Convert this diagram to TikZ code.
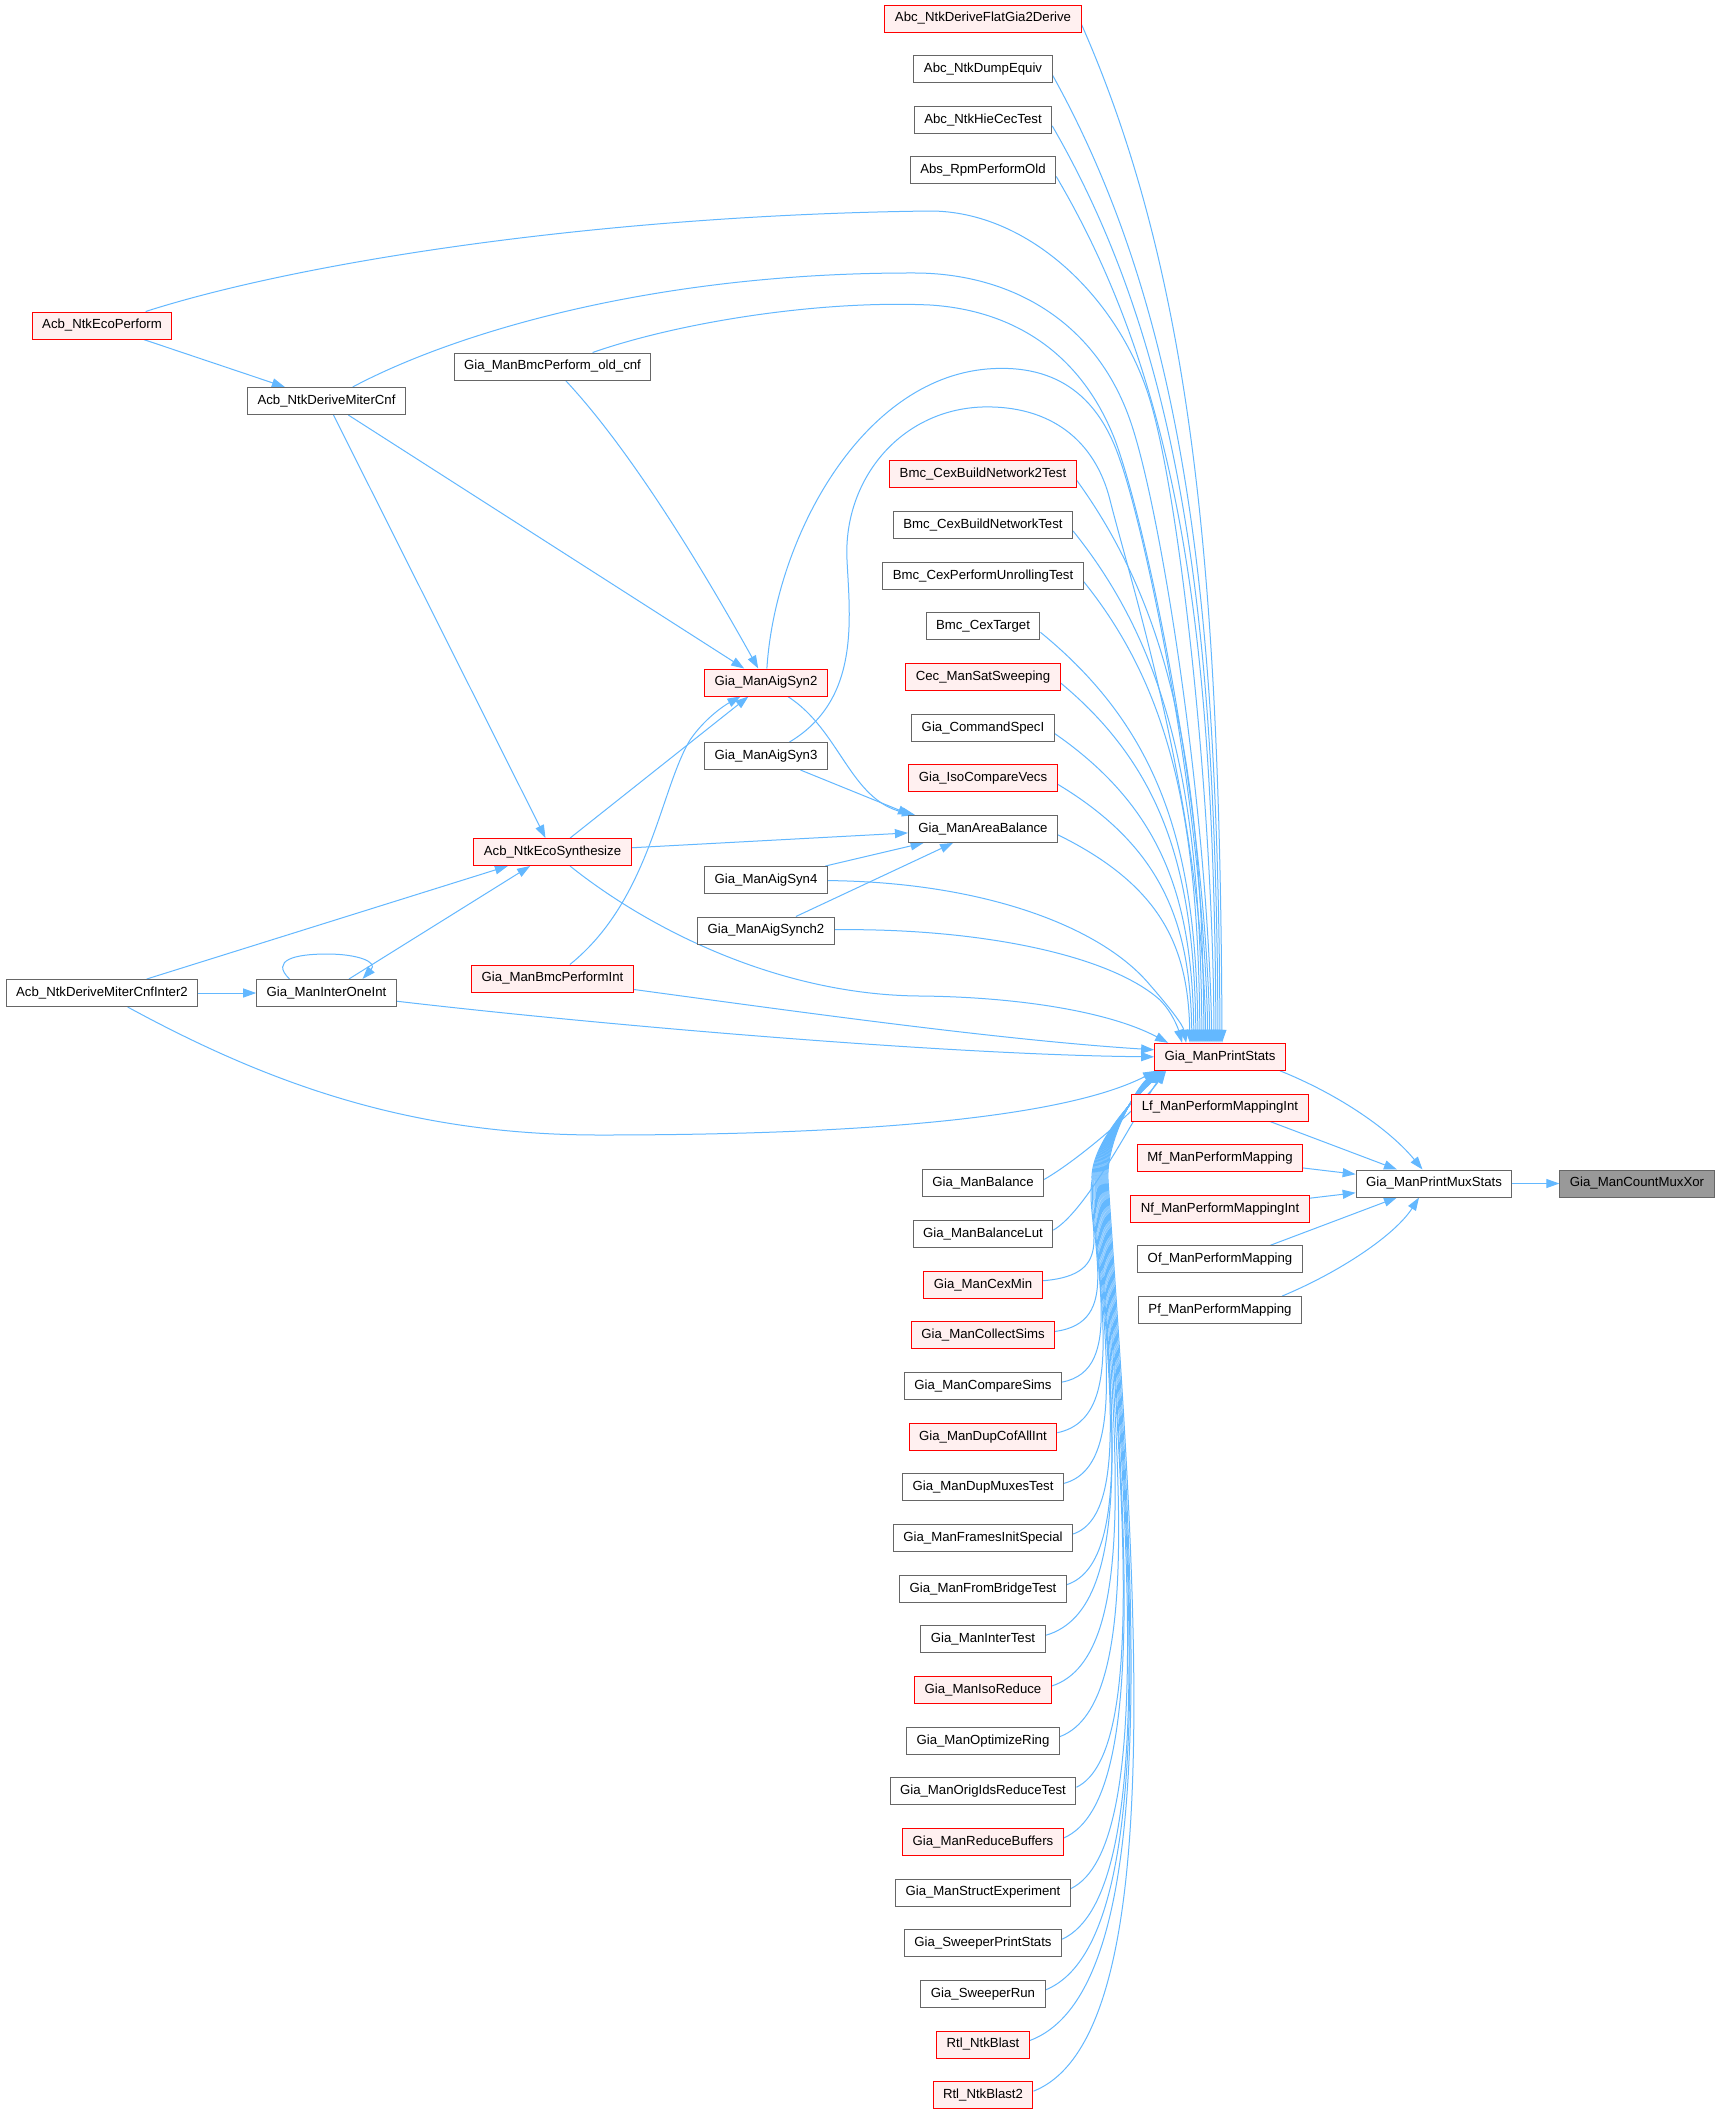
\documentclass[tikz,border=0pt]{standalone}
\usepackage{fontspec}
\setmainfont{Liberation Sans}
\usetikzlibrary{arrows.meta,calc}
\pgfdeclarelayer{bg}
\pgfsetlayers{bg,main}
\definecolor{edgec}{HTML}{63B8FF}
\definecolor{nodeg}{HTML}{666666}
\definecolor{redfill}{HTML}{FFF0F0}
\definecolor{cmxfill}{HTML}{999999}
\tikzset{
  fn/.style={draw=nodeg, fill=white, line width=1pt, rectangle, minimum height=27pt,
    inner xsep=10pt, inner ysep=0pt, text height=9.6pt, text depth=2.8pt,
    font=\fontsize{13.2pt}{16pt}\selectfont, text=black},
  rn/.style={fn, draw=red, fill=redfill},
  cn/.style={fn, fill=cmxfill},
  cl/.style={draw=edgec, line width=1pt, -{Triangle[length=13pt,width=9pt]}},
}
\begin{document}
\begin{tikzpicture}[x=1pt,y=-1pt]
\begin{pgfonlayer}{bg}
\fill[white] (0,0) rectangle (1720,2115);
\end{pgfonlayer}
\useasboundingbox (0,0) rectangle (1720,2115);

% column of callers
\foreach \k/\sty/\lbl in {
 0/rn/Abc\_NtkDeriveFlatGia2Derive,
 1/fn/Abc\_NtkDumpEquiv,
 2/fn/Abc\_NtkHieCecTest,
 3/fn/Abs\_RpmPerformOld,
 9/rn/Bmc\_CexBuildNetwork2Test,
 10/fn/Bmc\_CexBuildNetworkTest,
 11/fn/Bmc\_CexPerformUnrollingTest,
 12/fn/Bmc\_CexTarget,
 13/rn/Cec\_ManSatSweeping,
 14/fn/Gia\_CommandSpecI,
 15/rn/Gia\_IsoCompareVecs,
 16/fn/Gia\_ManAreaBalance,
 23/fn/Gia\_ManBalance,
 24/fn/Gia\_ManBalanceLut,
 25/rn/Gia\_ManCexMin,
 26/rn/Gia\_ManCollectSims,
 27/fn/Gia\_ManCompareSims,
 28/rn/Gia\_ManDupCofAllInt,
 29/fn/Gia\_ManDupMuxesTest,
 30/fn/Gia\_ManFramesInitSpecial,
 31/fn/Gia\_ManFromBridgeTest,
 32/fn/Gia\_ManInterTest,
 33/rn/Gia\_ManIsoReduce,
 34/fn/Gia\_ManOptimizeRing,
 35/fn/Gia\_ManOrigIdsReduceTest,
 36/rn/Gia\_ManReduceBuffers,
 37/fn/Gia\_ManStructExperiment,
 38/fn/Gia\_SweeperPrintStats,
 39/fn/Gia\_SweeperRun,
 40/rn/Rtl\_NtkBlast,
 41/rn/Rtl\_NtkBlast2}
 { \node[\sty] (n\k) at (983,{18.5+50.65*\k}) {\lbl}; }

% right part
\node[rn] (ps) at (1220,1056.8) {Gia\_ManPrintStats};
\node[rn] (lf) at (1220,1107.5) {Lf\_ManPerformMappingInt};
\node[rn] (mf) at (1220,1158.1) {Mf\_ManPerformMapping};
\node[rn] (nf) at (1220,1208.8) {Nf\_ManPerformMappingInt};
\node[fn] (of) at (1220,1259.4) {Of\_ManPerformMapping};
\node[fn] (pf) at (1220,1310.1) {Pf\_ManPerformMapping};
\node[fn] (pms) at (1434,1183.5) {Gia\_ManPrintMuxStats};
\node[cn] (cmx) at (1637,1183.5) {Gia\_ManCountMuxXor};

% left part
\node[rn] (ep) at (102,325.5) {Acb\_NtkEcoPerform};
\node[fn] (dmc) at (326.5,401) {Acb\_NtkDeriveMiterCnf};
\node[fn] (oc) at (552.5,366.5) {Gia\_ManBmcPerform\_old\_cnf};
\node[rn] (ag2) at (766,682.5) {Gia\_ManAigSyn2};
\node[fn] (ag3) at (766,756) {Gia\_ManAigSyn3};
\node[rn] (es) at (552.5,852) {Acb\_NtkEcoSynthesize};
\node[fn] (ag4) at (766,880) {Gia\_ManAigSyn4};
\node[fn] (ags2) at (766,930.5) {Gia\_ManAigSynch2};
\node[fn] (i2) at (102,993) {Acb\_NtkDeriveMiterCnfInter2};
\node[fn] (io) at (326.5,993) {Gia\_ManInterOneInt};
\node[rn] (bpi) at (552.5,978.5) {Gia\_ManBmcPerformInt};

\begin{pgfonlayer}{bg}
% edges from upper column into Gia_ManPrintStats
\foreach \k/\mydx in {0/2,1/0,2/-2,3/-4,9/-16,10/-18,11/-20,12/-22,13/-24,14/-26,15/-28,16/-30} {
  \draw[cl] let \p1=([yshift=-6pt]n\k.east), \p2=([xshift=\mydx pt]ps.north) in
    (\p1) .. controls ({\x1+0.8*(\x2-\x1)},{\y1+0.25*(\y2-\y1)}) and ({\x2-2pt},{\y2-0.45*(\y2-\y1)}) .. (\p2);
}

% edges from lower column into Gia_ManPrintStats
\foreach \k/\mydx in {23/12,24/11} {
  \draw[cl] let \p1=([yshift=4pt]n\k.east), \p2=([xshift=\mydx pt]ps.south west) in
    (\p1) .. controls ({\x1+35pt},{\y1+20pt}) and ({\x2-25pt},{\y2-35pt}) .. (\p2);
}
\foreach \k in {25,...,41} {
  \pgfmathsetmacro\myxv{1085+3.2*(\k-25)}
  \pgfmathsetmacro\myjx{1092+1.0*(\k-25)}
  \pgfmathsetmacro\mydx{10-0.5*(\k-25)}
  \draw[cl] let \p1=([yshift=4pt]n\k.east), \p2=([xshift=\mydx pt]ps.south west) in
    (\p1) .. controls ({(\myxv+35)*1pt},{\y1+0.06*(-1180pt-\y1)}) and ({(\myxv)*1pt},{-1180pt+0.45*(\y1+1180pt)}) .. ({\myjx*1pt},-1180pt)
    .. controls ({(\myjx-2)*1pt},-1140pt) and ({\x2-20pt},{\y2-18pt}) .. (\p2);
}

% long curves over the top
\draw[cl] (ep) .. controls (300,262) and (600,215) .. (930,211)
  .. controls (1030,211) and (1120,300) .. (1150,400)
  .. controls (1180,500) and (1213,800) .. ([xshift=-6pt]ps.north);
\draw[cl] (dmc) .. controls (450,335) and (650,272) .. (917,273)
  .. controls (1010,274) and (1095,320) .. (1130,420)
  .. controls (1160,505) and (1207,800) .. ([xshift=-8pt]ps.north);
\draw[cl] (oc) .. controls (680,322) and (820,300) .. (930,305)
  .. controls (1010,310) and (1080,350) .. (1115,440)
  .. controls (1145,520) and (1205,800) .. ([xshift=-10pt]ps.north);
\draw[cl] (ag2) .. controls (775,540) and (860,380) .. (987,369)
  .. controls (1060,363) and (1100,400) .. (1120,460)
  .. controls (1145,530) and (1203,800) .. ([xshift=-12pt]ps.north);
\draw[cl] (ag3) .. controls (860,700) and (850,620) .. (847,560)
  .. controls (843,480) and (900,410) .. (982,407)
  .. controls (1050,405) and (1095,440) .. (1110,500)
  .. controls (1130,580) and (1201,800) .. ([xshift=-14pt]ps.north);

% other edges into Gia_ManPrintStats
\draw[cl] (es) .. controls (650,930) and (780,995) .. (920,996)
  .. controls (1020,997) and (1110,1012) .. ([xshift=14pt]ps.north west);
\draw[cl] (ag4) .. controls (980,882) and (1100,925) .. (1150,985)
  .. controls (1170,1008) and (1183,1025) .. ([xshift=32pt]ps.north west);
\draw[cl] (ags2) .. controls (980,928) and (1110,955) .. (1160,1000)
  .. controls (1172,1012) and (1178,1028) .. ([xshift=28pt]ps.north west);
\draw[cl] (bpi) .. controls (800,1012) and (1000,1040) .. ([yshift=7pt]ps.west);
\draw[cl] (io) .. controls (600,1025) and (950,1055) .. (ps.west);
\draw[cl] (i2) .. controls (280,1090) and (420,1135) .. (600,1135)
  .. controls (800,1135) and (1050,1125) .. ([xshift=2pt]ps.south west);

% left cluster
\draw[cl] (ep) -- (dmc);
\draw[cl] (dmc) -- (es);
\draw[cl] (dmc) -- (ag2);
\draw[cl] (oc) .. controls (640,460) and (720,600) .. (ag2);
\draw[cl] (es) -- (ag2);
\draw[cl] (bpi) .. controls (650,900) and (660,790) .. (690,740)
  .. controls (705,718) and (725,705) .. (ag2);
\draw[cl] (ag2) .. controls (840,730) and (850,800) .. ([xshift=-68pt]n16.north);
\draw[cl] (ag3) -- ([xshift=-72pt]n16.north);
\draw[cl] (es) -- (n16);
\draw[cl] (ag4) -- (n16);
\draw[cl] (ags2) -- (n16);
\draw[cl] (i2) -- (es);
\draw[cl] (io) -- (es);
\draw[cl] (i2) -- (io);
\draw[cl] ([xshift=-37pt]io.north) .. controls (270,960) and (295,954) .. (327,954)
  .. controls (358,954) and (378,962) .. ([xshift=36pt]io.north);

% right part edges
\draw[cl] ([xshift=60pt]ps.south) .. controls (1340,1095) and (1390,1130) .. (pms);
\draw[cl] ([xshift=50pt]lf.south) -- (pms);
\draw[cl] (mf) -- (pms);
\draw[cl] (nf) -- (pms);
\draw[cl] ([xshift=50pt]of.north) -- (pms);
\draw[cl] ([xshift=62pt]pf.north) .. controls (1340,1272) and (1395,1235) .. ([xshift=-15pt]pms.south);
\draw[cl] (pms) -- (cmx);
\end{pgfonlayer}
\end{tikzpicture}
\end{document}
